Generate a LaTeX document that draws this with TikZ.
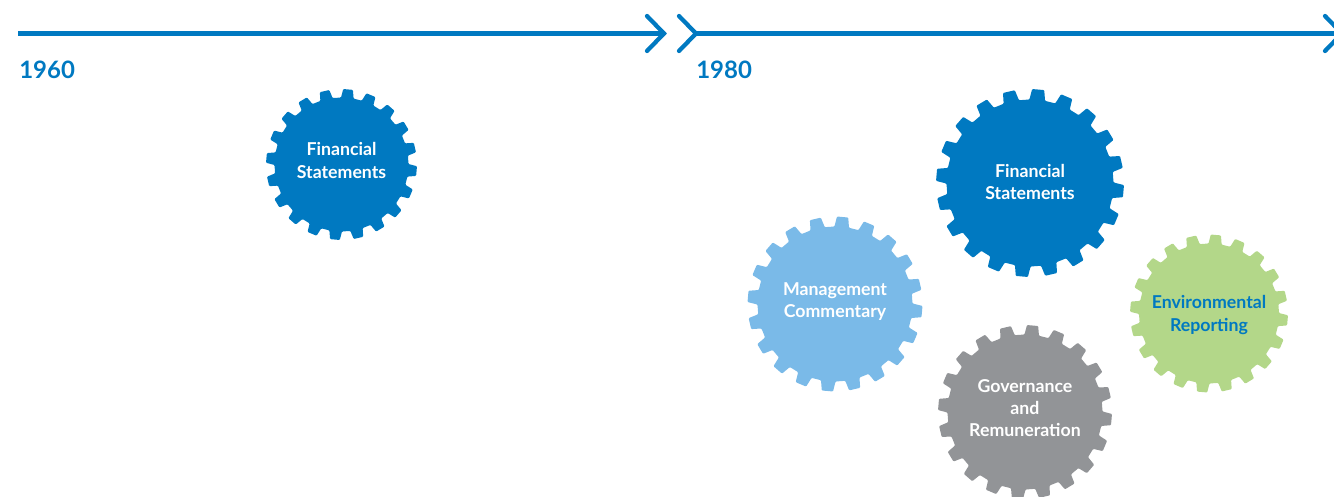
\documentclass[tikz,border=0pt]{standalone}
\usepackage{fontspec}
\setmainfont{Lato}
\definecolor{fsblue}{HTML}{0079C1}
\definecolor{mcblue}{HTML}{7ABAE8}
\definecolor{gvgrey}{HTML}{929497}
\definecolor{ergreen}{HTML}{B3D789}
% \gearshape{cx}{cy}{outer}{root}{offset}{colour}
\newcommand{\gearshape}[6]{%
  \fill[#6,rounded corners=0.7] 
  \foreach \i in {0,...,19}{
    \pgfextra{\pgfmathsetmacro{\ang}{#5+18*\i}}
    \ifnum\i=0 ($(#1,#2)+(\ang-3.7:#3 and -#3)$) \else -- ($(#1,#2)+(\ang-3.7:#3 and -#3)$) \fi
    -- ($(#1,#2)+(\ang+3.7:#3 and -#3)$)
    -- ($(#1,#2)+(\ang+5.4:#4 and -#4)$)
    -- ($(#1,#2)+(\ang+12.6:#4 and -#4)$)
  } -- cycle;}
\usetikzlibrary{calc}
\tikzset{
  timeline/.style={draw=fsblue,line width=3.9pt},
  chevron/.style={draw=fsblue,line width=3.2pt,line cap=round,line join=miter},
  year/.style={text=fsblue,font=\fontsize{18}{22}\selectfont\bfseries,anchor=west,inner sep=0pt},
  geartext/.style={align=center,inner sep=0pt,font=\fontsize{13.3}{16.7}\selectfont\bfseries},
}
\begin{document}
\begin{tikzpicture}[x=0.75pt,y=0.75pt]
\useasboundingbox (0,0) rectangle (1334,-496);
\clip (0,0) rectangle (1334,-496);
\coordinate (a1) at (18,-33.5);
\coordinate (t1) at (664,-33.5);
\coordinate (a1u) at (647,-16);
\coordinate (a1d) at (647,-51);
\coordinate (t2) at (696,-33.5);
\coordinate (a2u) at (679,-16);
\coordinate (a2d) at (679,-51);
\coordinate (t3) at (1342,-33.5);
\coordinate (a3u) at (1325,-16);
\coordinate (a3d) at (1325,-51);
\draw[timeline] (a1) -- (t1);
\draw[timeline] (t2) -- (t3);
\draw[chevron] (a1u) -- (t1) -- (a1d);
\draw[chevron] (a2u) -- (t2) -- (a2d);
\draw[chevron] (a3u) -- (t3) -- (a3d);
\node[year] (y1960) at (19,-69.5) {1960};
\node[year] (y1980) at (696,-69.5) {1980};
\gearshape{341.5}{-164.5}{75.5}{67}{-85}{fsblue}
\gearshape{1030}{-183}{94}{83.5}{-85}{fsblue}
\gearshape{835}{-304}{87.5}{77.5}{-85}{mcblue}
\gearshape{1209}{-313.5}{79}{70}{-85}{ergreen}
\gearshape{1025}{-412}{87}{77.5}{-85}{gvgrey}
\node[geartext,text=white] (g1) at (341.5,-160.5) {Financial\\Statements};
\node[geartext,text=white] (g2) at (1030,-182) {Financial\\Statements};
\node[geartext,text=white] (g3) at (835,-301.5) {Management\\Commentary};
\node[geartext,text=fsblue] (g4) at (1209,-315) {Environmental\\Reporting};
\node[geartext,text=white] (g5) at (1025,-408) {Governance\\and\\Remuneration};
\end{tikzpicture}
\end{document}
